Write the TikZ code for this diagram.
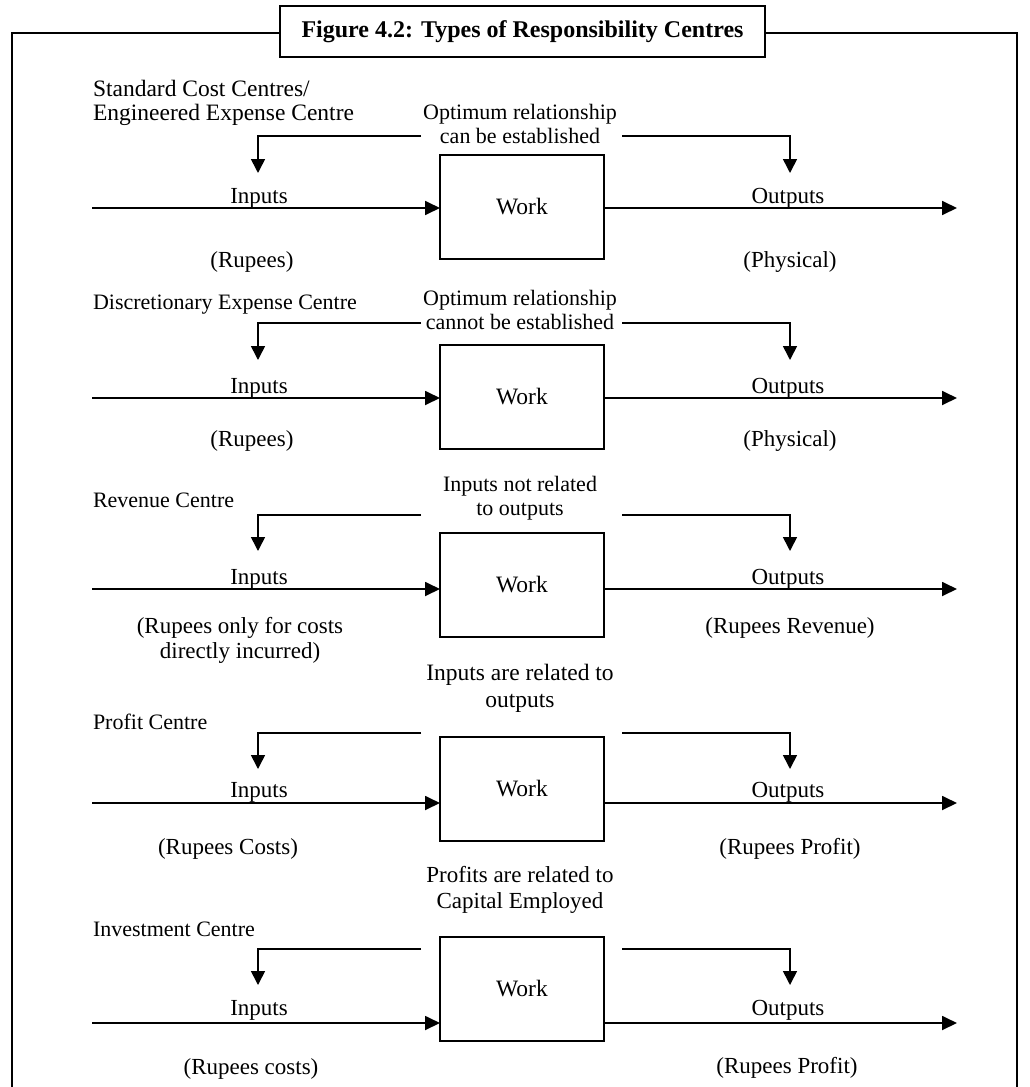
\documentclass[tikz,border=0pt]{standalone}
\usepackage{fontspec}
\setmainfont{Liberation Serif}
\usetikzlibrary{arrows.meta}
\begin{document}
\begin{tikzpicture}[x=1pt,y=-1pt,
  every node/.style={inner sep=0pt, outer sep=0pt},
  frameline/.style={line width=2.6pt},
  titlebox/.style={draw, line width=2.6pt, minimum width=485pt, minimum height=51pt,
    font=\bfseries\fontsize{24}{28}\selectfont},
  workbox/.style={draw, line width=1.4pt, minimum width=164pt, minimum height=104pt,
    font=\fontsize{23.5}{27}\selectfont},
  mainarrow/.style={line width=1.8pt, -{Triangle[length=15pt,width=14pt]}},
  feedarrow/.style={line width=1.6pt, -{Triangle[length=14pt,width=14pt]}},
  centrename/.style={anchor=west, align=left, font=\fontsize{22}{24}\selectfont},
  relation/.style={align=center, font=\fontsize{22}{24.5}\selectfont},
  flowname/.style={anchor=base, font=\fontsize{23}{26}\selectfont},
  unitlabel/.style={align=center, font=\fontsize{23}{25}\selectfont},
]
\useasboundingbox (0,0) rectangle (1030,1087);

% title and surrounding frame (open at the bottom)
\node[titlebox] (title) at (522.5,31.5) {Figure 4.2: Types of Responsibility Centres};
\coordinate (ftl) at (12,33);   \coordinate (fbl) at (12,1087);
\coordinate (ftr) at (1017,33); \coordinate (fbr) at (1017,1087);
\draw[frameline] (title.west |- ftl) -- (ftl) -- (fbl);
\draw[frameline] (title.east |- ftr) -- (ftr) -- (fbr);

% ---- Standard cost centre
\node[centrename, font=\fontsize{23.5}{24}\selectfont] (n1) at (93,103)
  {Standard Cost Centres/\\Engineered Expense Centre};
\node[relation] (r1) at (520,124) {Optimum relationship\\can be established};
\node[workbox] (w1) at (522,207) {Work};
\coordinate (a1) at (92,208); \coordinate (b1) at (957,208);
\draw[mainarrow] (a1) -- (a1 -| w1.west);
\draw[mainarrow] (w1.east |- b1) -- (b1);
\coordinate (fl1) at (421,136); \coordinate (tl1) at (258,173);
\coordinate (fr1) at (622,136); \coordinate (tr1) at (790,173);
\draw[feedarrow] (fl1) -| (tl1);
\draw[feedarrow] (fr1) -| (tr1);
\node[flowname] (i1) at (259,203) {Inputs};
\node[flowname] (o1) at (788,203) {Outputs};
\node[unitlabel] (u1) at (252,262) {(Rupees)};
\node[unitlabel] (p1) at (790,262) {(Physical)};

% ---- Discretionary expense centre
\node[centrename] (n2) at (93,305) {Discretionary Expense Centre};
\node[relation] (r2) at (520,310) {Optimum relationship\\cannot be established};
\node[workbox] (w2) at (522,397) {Work};
\coordinate (a2) at (92,398); \coordinate (b2) at (957,398);
\draw[mainarrow] (a2) -- (a2 -| w2.west);
\draw[mainarrow] (w2.east |- b2) -- (b2);
\coordinate (fl2) at (421,323); \coordinate (tl2) at (258,360);
\coordinate (fr2) at (622,323); \coordinate (tr2) at (790,360);
\draw[feedarrow] (fl2) -| (tl2);
\draw[feedarrow] (fr2) -| (tr2);
\node[flowname] (i2) at (259,393) {Inputs};
\node[flowname] (o2) at (788,393) {Outputs};
\node[unitlabel] (u2) at (252,441) {(Rupees)};
\node[unitlabel] (p2) at (790,441) {(Physical)};

% ---- Revenue centre
\node[centrename] (n3) at (93,500) {Revenue Centre};
\node[relation] (r3) at (520,498) {Inputs not related\\to outputs};
\node[workbox] (w3) at (522,585) {Work};
\coordinate (a3) at (92,589); \coordinate (b3) at (957,589);
\draw[mainarrow] (a3) -- (a3 -| w3.west);
\draw[mainarrow] (w3.east |- b3) -- (b3);
\coordinate (fl3) at (421,515); \coordinate (tl3) at (258,551);
\coordinate (fr3) at (622,515); \coordinate (tr3) at (790,551);
\draw[feedarrow] (fl3) -| (tl3);
\draw[feedarrow] (fr3) -| (tr3);
\node[flowname] (i3) at (259,584) {Inputs};
\node[flowname] (o3) at (788,584) {Outputs};
\node[unitlabel] (u3) at (240,640) {(Rupees only for costs\\directly incurred)};
\node[unitlabel] (p3) at (790,628) {(Rupees Revenue)};

% ---- Profit centre
\node[centrename] (n4) at (93,722) {Profit Centre};
\node[relation, font=\fontsize{23.5}{27}\selectfont] (r4) at (520,688) {Inputs are related to\\outputs};
\node[workbox] (w4) at (522,789) {Work};
\coordinate (a4) at (92,803); \coordinate (b4) at (957,803);
\draw[mainarrow] (a4) -- (a4 -| w4.west);
\draw[mainarrow] (w4.east |- b4) -- (b4);
\coordinate (fl4) at (421,733); \coordinate (tl4) at (258,769);
\coordinate (fr4) at (622,733); \coordinate (tr4) at (790,769);
\draw[feedarrow] (fl4) -| (tl4);
\draw[feedarrow] (fr4) -| (tr4);
\node[flowname] (i4) at (259,797) {Inputs};
\node[flowname] (o4) at (788,797) {Outputs};
\node[unitlabel] (u4) at (228,849) {(Rupees Costs)};
\node[unitlabel] (p4) at (790,849) {(Rupees Profit)};

% ---- Investment centre
\node[centrename] (n5) at (93,929) {Investment Centre};
\node[relation, font=\fontsize{23}{25.5}\selectfont] (r5) at (520,890) {Profits are related to\\Capital Employed};
\node[workbox] (w5) at (522,989) {Work};
\coordinate (a5) at (92,1023); \coordinate (b5) at (957,1023);
\draw[mainarrow] (a5) -- (a5 -| w5.west);
\draw[mainarrow] (w5.east |- b5) -- (b5);
\coordinate (fl5) at (421,949); \coordinate (tl5) at (258,985);
\coordinate (fr5) at (622,949); \coordinate (tr5) at (790,985);
\draw[feedarrow] (fl5) -| (tl5);
\draw[feedarrow] (fr5) -| (tr5);
\node[flowname] (i5) at (259,1015) {Inputs};
\node[flowname] (o5) at (788,1015) {Outputs};
\node[unitlabel] (u5) at (251,1069) {(Rupees costs)};
\node[unitlabel] (p5) at (787,1068) {(Rupees Profit)};
\end{tikzpicture}
\end{document}
